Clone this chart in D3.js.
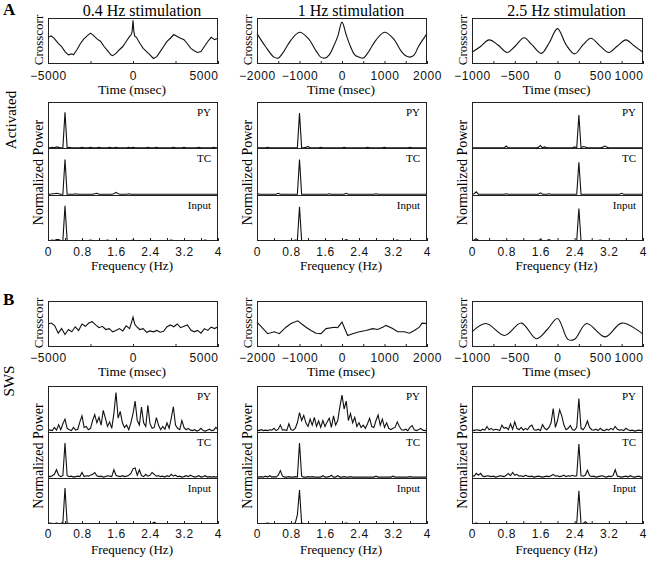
<!DOCTYPE html>
<html><head><meta charset="utf-8">
<script src="https://cdn.jsdelivr.net/npm/d3@7"></script>
<style>body{margin:0;background:#fff}svg{display:block}</style>
</head><body>
<svg id="c" width="655" height="561"></svg>
<script>
// ---------------- DATA ----------------
const titles = ["0.4 Hz stimulation", "1 Hz stimulation", "2.5 Hz stimulation"];
const sectionLetters = ["A", "B"];
const stateNames = ["Activated", "SWS"];
const cellNames = ["PY", "TC", "Input"];
const lagRanges = [5000, 2000, 1000];
const lagTickLabels = [[-5000, 0, 5000], [-2000, -1000, 0, 1000, 2000], [-1000, -500, 0, 500, 1000]];
const lagMinorTicks = [[-2500, 2500], [-1500, -500, 500, 1500], [-750, -250, 250, 750]];
const freqTickLabels = [0, 0.8, 1.6, 2.4, 3.2, 4];
const freqMinorTicks = [0.4, 1.2, 2.0, 2.8, 3.6];
const freqs = d3.range(81).map(i => +(i * 0.05).toFixed(2)); // sampling grid 0..4 Hz

// crosscorrelations [lag ms, normalized value]
const ccAct04 = [[-5000,0.58],[-4800,0.61],[-4600,0.54],[-4400,0.45],[-4200,0.38],[-4000,0.27],[-3800,0.20],[-3600,0.22],[-3500,0.20],[-3300,0.31],[-3100,0.44],[-2900,0.54],[-2700,0.61],[-2500,0.67],[-2300,0.61],[-2100,0.54],[-1900,0.49],[-1700,0.38],[-1500,0.29],[-1300,0.20],[-1200,0.18],[-1000,0.23],[-800,0.31],[-600,0.38],[-400,0.49],[-200,0.60],[-100,0.64],[-50,0.71],[0,0.95],[50,0.71],[100,0.61],[200,0.58],[400,0.45],[600,0.34],[800,0.27],[1000,0.20],[1200,0.12],[1400,0.16],[1600,0.27],[1800,0.38],[2000,0.49],[2200,0.56],[2400,0.64],[2600,0.60],[2800,0.56],[3000,0.53],[3200,0.44],[3400,0.34],[3600,0.29],[3800,0.25],[4000,0.27],[4200,0.38],[4400,0.49],[4600,0.58],[4800,0.53],[5000,0.56]];
const ccAct1 = [[-2000,0.66],[-1800,0.38],[-1600,0.15],[-1500,0.13],[-1400,0.23],[-1200,0.52],[-1000,0.69],[-800,0.56],[-600,0.27],[-500,0.15],[-400,0.13],[-300,0.20],[-200,0.38],[-100,0.60],[0,0.91],[100,0.63],[200,0.38],[300,0.20],[400,0.15],[500,0.13],[600,0.23],[800,0.52],[1000,0.69],[1200,0.56],[1400,0.27],[1500,0.18],[1600,0.15],[1700,0.20],[1800,0.38],[2000,0.66]];
const ccAct25 = [[-1000,0.255],[-900,0.38],[-800,0.525],[-700,0.42],[-590,0.25],[-500,0.38],[-390,0.57],[-300,0.42],[-190,0.23],[-100,0.45],[0,0.77],[100,0.42],[200,0.22],[300,0.42],[390,0.56],[500,0.39],[600,0.25],[700,0.39],[800,0.525],[900,0.39],[1000,0.255]];
const ccSws04 = [[-5000,0.50],[-4800,0.52],[-4600,0.46],[-4400,0.30],[-4200,0.40],[-4000,0.27],[-3800,0.38],[-3600,0.33],[-3400,0.44],[-3200,0.36],[-3000,0.50],[-2800,0.45],[-2600,0.52],[-2400,0.55],[-2200,0.48],[-2000,0.42],[-1800,0.45],[-1600,0.38],[-1400,0.40],[-1200,0.33],[-1000,0.36],[-800,0.40],[-600,0.35],[-400,0.46],[-200,0.40],[-100,0.52],[0,0.65],[100,0.50],[200,0.45],[400,0.38],[600,0.40],[800,0.32],[1000,0.35],[1200,0.33],[1400,0.36],[1600,0.32],[1800,0.34],[2000,0.44],[2200,0.48],[2400,0.44],[2600,0.50],[2800,0.42],[3000,0.45],[3200,0.48],[3400,0.37],[3600,0.33],[3800,0.36],[4000,0.30],[4200,0.40],[4400,0.36],[4600,0.43],[4800,0.40],[5000,0.44]];
const ccSws1 = [[-2000,0.54],[-1749,0.29],[-1592,0.33],[-1475,0.29],[-1318,0.43],[-1200,0.51],[-1043,0.57],[-847,0.43],[-729,0.36],[-612,0.30],[-494,0.29],[-376,0.40],[-180,0.43],[-102,0.42],[0,0.54],[133,0.25],[251,0.29],[408,0.33],[565,0.36],[722,0.40],[839,0.38],[957,0.43],[1035,0.47],[1192,0.40],[1310,0.33],[1467,0.33],[1584,0.30],[1702,0.36],[1820,0.43],[1882,0.52],[2000,0.51]];
const ccSws25 = [[-1000,0.33],[-835,0.51],[-620,0.25],[-424,0.52],[-247,0.18],[-120,0.38],[0,0.62],[125,0.16],[200,0.17],[341,0.51],[557,0.22],[753,0.52],[1000,0.28]];

// normalized power spectra on the 0.05 Hz grid
const actPY04 = [0.01,0.01,0.02,0.01,0.03,0.02,0.01,0.01,0.78,0.01,0.02,0.01,0.01,0.01,0.01,0.01,0.02,0.01,0.01,0.01,0.02,0.01,0.01,0.01,0.02,0.01,0.01,0.01,0.01,0.02,0.01,0.01,0.02,0.01,0.01,0.01,0.01,0.01,0.02,0.01,0.02,0.01,0.01,0.01,0.01,0.01,0.01,0.02,0.01,0.01,0.01,0.02,0.01,0.01,0.01,0.01,0.01,0.01,0.01,0.02,0.01,0.01,0.01,0.01,0.02,0.01,0.01,0.01,0.01,0.01,0.01,0.02,0.01,0.01,0.01,0.01,0.01,0.01,0.02,0.01,0.01];
const actTC04 = [0.01,0.01,0.02,0.02,0.03,0.02,0.01,0.01,0.76,0.01,0.01,0.01,0.01,0.02,0.01,0.01,0.01,0.01,0.01,0.01,0.01,0.01,0.02,0.03,0.01,0.01,0.01,0.01,0.01,0.01,0.01,0.02,0.05,0.02,0.01,0.01,0.01,0.01,0.02,0.01,0.01,0.01,0.01,0.01,0.01,0.01,0.01,0.01,0.01,0.01,0.01,0.01,0.01,0.01,0.01,0.01,0.01,0.01,0.01,0.01,0.01,0.01,0.01,0.01,0.01,0.01,0.01,0.01,0.01,0.01,0.01,0.01,0.01,0.01,0.01,0.01,0.01,0.01,0.01,0.01,0.01];
const actIn04 = [0.01,0.01,0.02,0.01,0.03,0.03,0.01,0.01,0.76,0.01,0.01,0.01,0.01,0.01,0.01,0.01,0.01,0.01,0.01,0.01,0.02,0.01,0.01,0.01,0.01,0.01,0.01,0.01,0.02,0.01,0.01,0.01,0.01,0.01,0.01,0.01,0.01,0.01,0.01,0.01,0.02,0.01,0.01,0.01,0.01,0.01,0.01,0.01,0.01,0.01,0.01,0.01,0.01,0.01,0.01,0.01,0.01,0.01,0.02,0.01,0.01,0.01,0.01,0.01,0.01,0.01,0.01,0.01,0.01,0.01,0.01,0.01,0.01,0.01,0.02,0.01,0.01,0.01,0.01,0.01,0.01];
const actPY1 = [0.01,0.01,0.01,0.01,0.01,0.02,0.01,0.01,0.01,0.01,0.01,0.01,0.01,0.01,0.01,0.01,0.01,0.01,0.01,0.01,0.76,0.01,0.01,0.02,0.04,0.01,0.01,0.01,0.01,0.01,0.02,0.01,0.01,0.01,0.01,0.01,0.01,0.01,0.01,0.01,0.01,0.02,0.01,0.01,0.01,0.01,0.01,0.01,0.01,0.01,0.01,0.01,0.02,0.01,0.01,0.01,0.01,0.01,0.01,0.01,0.02,0.01,0.01,0.01,0.01,0.01,0.01,0.01,0.01,0.01,0.01,0.01,0.02,0.01,0.01,0.01,0.01,0.01,0.01,0.01,0.01];
const actTC1 = [0.03,0.01,0.01,0.01,0.01,0.01,0.01,0.01,0.01,0.01,0.03,0.01,0.01,0.01,0.01,0.01,0.01,0.01,0.01,0.01,0.76,0.01,0.01,0.01,0.01,0.01,0.01,0.01,0.01,0.01,0.01,0.01,0.01,0.01,0.02,0.01,0.01,0.01,0.01,0.01,0.01,0.01,0.03,0.01,0.01,0.01,0.01,0.01,0.01,0.01,0.01,0.01,0.01,0.01,0.01,0.01,0.02,0.01,0.01,0.01,0.01,0.01,0.01,0.01,0.01,0.01,0.01,0.01,0.01,0.01,0.01,0.01,0.01,0.01,0.01,0.01,0.01,0.01,0.01,0.01,0.01];
const actIn1 = [0.01,0.01,0.01,0.01,0.01,0.01,0.01,0.01,0.01,0.01,0.01,0.01,0.01,0.01,0.01,0.01,0.01,0.01,0.02,0.01,0.74,0.01,0.01,0.01,0.01,0.01,0.01,0.01,0.01,0.01,0.01,0.01,0.01,0.01,0.01,0.01,0.01,0.01,0.01,0.01,0.01,0.01,0.03,0.01,0.01,0.01,0.01,0.01,0.01,0.01,0.01,0.01,0.01,0.01,0.01,0.01,0.01,0.01,0.01,0.01,0.01,0.01,0.01,0.01,0.01,0.01,0.02,0.01,0.01,0.01,0.01,0.01,0.01,0.01,0.01,0.01,0.01,0.01,0.01,0.01,0.01];
const actPY25 = [0.01,0.01,0.01,0.01,0.01,0.01,0.01,0.01,0.01,0.01,0.01,0.01,0.01,0.01,0.01,0.01,0.05,0.01,0.01,0.01,0.01,0.01,0.01,0.01,0.01,0.01,0.01,0.01,0.01,0.01,0.01,0.02,0.06,0.01,0.03,0.01,0.01,0.01,0.01,0.01,0.01,0.01,0.01,0.01,0.01,0.01,0.01,0.01,0.03,0.01,0.72,0.01,0.04,0.03,0.01,0.01,0.01,0.01,0.01,0.01,0.01,0.02,0.05,0.03,0.01,0.01,0.01,0.01,0.01,0.01,0.01,0.01,0.01,0.01,0.01,0.01,0.01,0.01,0.01,0.01,0.01];
const actTC25 = [0.01,0.02,0.06,0.01,0.01,0.01,0.01,0.01,0.01,0.01,0.01,0.01,0.01,0.01,0.01,0.01,0.02,0.01,0.01,0.01,0.01,0.01,0.01,0.01,0.01,0.01,0.01,0.01,0.01,0.01,0.01,0.01,0.04,0.01,0.01,0.01,0.02,0.01,0.01,0.01,0.01,0.01,0.01,0.01,0.01,0.01,0.01,0.01,0.01,0.01,0.70,0.01,0.01,0.01,0.01,0.01,0.01,0.01,0.01,0.01,0.01,0.01,0.01,0.01,0.01,0.01,0.01,0.01,0.01,0.01,0.03,0.01,0.01,0.01,0.01,0.01,0.01,0.01,0.01,0.01,0.01];
const actIn25 = [0.01,0.02,0.05,0.01,0.01,0.01,0.01,0.01,0.01,0.01,0.01,0.01,0.01,0.01,0.01,0.01,0.01,0.01,0.01,0.01,0.01,0.01,0.01,0.01,0.01,0.01,0.01,0.01,0.01,0.01,0.01,0.01,0.03,0.01,0.01,0.01,0.03,0.01,0.01,0.01,0.01,0.01,0.01,0.01,0.01,0.01,0.01,0.01,0.01,0.01,0.70,0.01,0.01,0.01,0.01,0.01,0.01,0.01,0.01,0.01,0.02,0.01,0.01,0.01,0.01,0.01,0.01,0.01,0.01,0.01,0.01,0.01,0.01,0.01,0.01,0.01,0.01,0.01,0.01,0.01,0.01];
const swsPY04 = [0.05,0.04,0.03,0.10,0.04,0.16,0.05,0.18,0.28,0.08,0.05,0.03,0.10,0.04,0.06,0.22,0.35,0.10,0.12,0.05,0.08,0.25,0.38,0.20,0.32,0.15,0.47,0.30,0.12,0.22,0.08,0.40,0.86,0.30,0.45,0.20,0.10,0.15,0.05,0.20,0.40,0.67,0.25,0.15,0.54,0.20,0.12,0.58,0.18,0.08,0.10,0.31,0.15,0.05,0.12,0.06,0.20,0.08,0.30,0.55,0.15,0.08,0.05,0.25,0.10,0.05,0.08,0.04,0.03,0.05,0.02,0.04,0.08,0.03,0.02,0.04,0.06,0.03,0.04,0.10,0.05];
const swsTC04 = [0.04,0.03,0.05,0.08,0.18,0.06,0.03,0.05,0.76,0.05,0.03,0.04,0.02,0.03,0.04,0.03,0.12,0.03,0.05,0.04,0.06,0.08,0.12,0.05,0.03,0.04,0.02,0.03,0.05,0.04,0.03,0.18,0.06,0.04,0.03,0.05,0.03,0.04,0.06,0.10,0.20,0.22,0.06,0.18,0.05,0.03,0.08,0.04,0.06,0.12,0.08,0.04,0.05,0.03,0.04,0.02,0.05,0.03,0.08,0.04,0.06,0.03,0.04,0.02,0.03,0.05,0.03,0.06,0.04,0.02,0.03,0.05,0.02,0.03,0.05,0.02,0.03,0.02,0.03,0.02,0.03];
const swsIn04 = [0.01,0.02,0.01,0.01,0.02,0.01,0.01,0.03,0.78,0.02,0.01,0.01,0.01,0.01,0.01,0.01,0.01,0.01,0.01,0.01,0.01,0.01,0.01,0.01,0.01,0.01,0.01,0.01,0.01,0.01,0.01,0.01,0.01,0.01,0.01,0.01,0.01,0.01,0.01,0.01,0.01,0.01,0.01,0.01,0.01,0.01,0.01,0.01,0.01,0.01,0.04,0.01,0.01,0.01,0.01,0.01,0.01,0.01,0.01,0.01,0.01,0.01,0.01,0.01,0.01,0.01,0.01,0.01,0.01,0.01,0.01,0.01,0.01,0.01,0.01,0.01,0.01,0.01,0.01,0.01,0.01];
const swsPY1 = [0.04,0.03,0.05,0.03,0.04,0.03,0.05,0.04,0.08,0.03,0.06,0.15,0.04,0.05,0.03,0.18,0.05,0.04,0.08,0.20,0.42,0.25,0.36,0.20,0.12,0.28,0.15,0.32,0.12,0.24,0.10,0.25,0.12,0.22,0.30,0.10,0.35,0.15,0.25,0.55,0.80,0.50,0.67,0.25,0.40,0.20,0.32,0.12,0.20,0.10,0.15,0.08,0.18,0.30,0.12,0.10,0.25,0.37,0.15,0.28,0.10,0.20,0.08,0.05,0.08,0.10,0.22,0.12,0.05,0.04,0.06,0.03,0.10,0.14,0.05,0.03,0.05,0.08,0.04,0.03,0.04];
const swsTC1 = [0.03,0.02,0.03,0.02,0.04,0.02,0.05,0.02,0.03,0.02,0.06,0.16,0.04,0.02,0.02,0.03,0.02,0.02,0.03,0.02,0.76,0.04,0.02,0.02,0.03,0.02,0.03,0.02,0.02,0.02,0.02,0.05,0.02,0.02,0.03,0.06,0.02,0.02,0.05,0.02,0.02,0.03,0.02,0.02,0.03,0.02,0.02,0.02,0.02,0.02,0.02,0.02,0.02,0.02,0.02,0.02,0.04,0.02,0.02,0.02,0.02,0.02,0.02,0.02,0.04,0.02,0.02,0.02,0.02,0.02,0.02,0.02,0.03,0.02,0.02,0.02,0.02,0.02,0.02,0.02,0.02];
const swsIn1 = [0.01,0.01,0.01,0.01,0.01,0.02,0.01,0.01,0.01,0.01,0.01,0.01,0.01,0.01,0.01,0.01,0.01,0.01,0.02,0.20,0.74,0.02,0.01,0.01,0.01,0.01,0.01,0.01,0.01,0.01,0.01,0.01,0.01,0.01,0.01,0.01,0.01,0.01,0.01,0.01,0.01,0.01,0.02,0.01,0.01,0.01,0.01,0.01,0.01,0.01,0.01,0.01,0.01,0.01,0.01,0.01,0.01,0.01,0.01,0.01,0.01,0.01,0.01,0.01,0.01,0.01,0.01,0.01,0.01,0.01,0.01,0.01,0.01,0.01,0.01,0.01,0.01,0.01,0.01,0.01,0.01];
const swsPY25 = [0.05,0.03,0.05,0.04,0.03,0.06,0.04,0.12,0.05,0.08,0.04,0.06,0.05,0.03,0.15,0.08,0.10,0.05,0.18,0.06,0.22,0.08,0.05,0.10,0.04,0.08,0.05,0.12,0.15,0.05,0.04,0.06,0.03,0.16,0.08,0.05,0.10,0.20,0.51,0.10,0.25,0.48,0.35,0.15,0.05,0.08,0.14,0.05,0.04,0.10,0.73,0.08,0.05,0.12,0.24,0.10,0.05,0.04,0.06,0.03,0.08,0.04,0.03,0.06,0.04,0.08,0.05,0.12,0.06,0.04,0.05,0.03,0.08,0.05,0.03,0.04,0.02,0.03,0.04,0.03,0.04];
const swsTC25 = [0.05,0.04,0.10,0.06,0.10,0.04,0.03,0.05,0.04,0.03,0.04,0.02,0.03,0.05,0.04,0.03,0.06,0.10,0.05,0.12,0.06,0.08,0.04,0.05,0.03,0.06,0.04,0.03,0.04,0.02,0.03,0.04,0.03,0.02,0.03,0.04,0.03,0.05,0.08,0.04,0.05,0.03,0.04,0.06,0.03,0.05,0.04,0.06,0.04,0.05,0.74,0.05,0.04,0.06,0.17,0.05,0.03,0.04,0.02,0.03,0.04,0.05,0.03,0.02,0.04,0.03,0.05,0.18,0.04,0.03,0.02,0.03,0.04,0.02,0.05,0.03,0.02,0.03,0.04,0.02,0.03];
const swsIn25 = [0.01,0.01,0.02,0.01,0.01,0.01,0.01,0.01,0.01,0.01,0.01,0.01,0.01,0.01,0.01,0.01,0.01,0.01,0.01,0.01,0.01,0.01,0.01,0.01,0.01,0.01,0.01,0.01,0.01,0.01,0.01,0.01,0.01,0.01,0.01,0.01,0.01,0.01,0.01,0.01,0.01,0.01,0.01,0.01,0.01,0.01,0.01,0.01,0.01,0.02,0.72,0.01,0.01,0.05,0.01,0.01,0.01,0.01,0.01,0.01,0.01,0.01,0.01,0.01,0.01,0.01,0.01,0.01,0.01,0.01,0.01,0.01,0.01,0.01,0.01,0.01,0.01,0.01,0.01,0.01,0.01];

const ccData = [[ccAct04, ccAct1, ccAct25], [ccSws04, ccSws1, ccSws25]];
const spData = [
  [[actPY04, actTC04, actIn04], [actPY1, actTC1, actIn1], [actPY25, actTC25, actIn25]],
  [[swsPY04, swsTC04, swsIn04], [swsPY1, swsTC1, swsIn1], [swsPY25, swsTC25, swsIn25]]
];

// ---------------- LAYOUT ----------------
const serif = '"Liberation Serif","Times New Roman",serif';
const sans = '"Liberation Sans",Arial,sans-serif';
const cols = [{l:48, r:218, endAlign:true}, {l:257, r:427, endAlign:false}, {l:472, r:643, endAlign:true}];
const secs = [
  {ccT:18, ccB:64, ccTick:80, ccLab:93.5, spT:102, spB:241, spTick:256, spLab:269.5, letterY:15, stateX:16, stateY:120},
  {ccT:301, ccB:347, ccTick:362, ccLab:375.5, spT:386, spB:524, spTick:537.5, spLab:553.5, letterY:305, stateX:14, stateY:381}
];
const ccCurves = [[d3.curveLinear, d3.curveCatmullRom, d3.curveCatmullRom], [d3.curveLinear, d3.curveLinear, d3.curveCatmullRom]];

const svg = d3.select("#c");
const fmtLag = d3.format("d");

secs.forEach((s, si) => {
  svg.append("text").attr("x", 3).attr("y", s.letterY).text(sectionLetters[si])
    .attr("font-family", serif).attr("font-weight", "bold").attr("font-size", 17);
  svg.append("text").attr("transform", `translate(${s.stateX},${s.stateY}) rotate(-90)`)
    .attr("text-anchor", "middle").attr("font-family", serif).attr("font-size", 15).text(stateNames[si]);

  cols.forEach((c, ci) => {
    const g = svg.append("g");
    const cx = (c.l + c.r) / 2;
    if (si === 0) {
      g.append("text").attr("x", cx + 9).attr("y", 15.5).attr("text-anchor", "middle")
        .attr("font-family", serif).attr("font-size", 16).text(titles[ci]);
    }
    // ---- crosscorrelation panel
    const R = lagRanges[ci];
    const x = d3.scaleLinear().domain([-R, R]).range([c.l, c.r]);
    const y = d3.scaleLinear().domain([0, 1]).range([s.ccB, s.ccT]);
    g.append("path").datum(ccData[si][ci])
      .attr("d", d3.line().x(d => x(d[0])).y(d => y(d[1])).curve(ccCurves[si][ci]))
      .attr("fill", "none").attr("stroke", "#111").attr("stroke-width", 1.1);
    const labs = lagTickLabels[ci];
    const ax = g.append("g").attr("transform", `translate(0,${s.ccB})`)
      .call(d3.axisBottom(x).tickValues(labs.concat(lagMinorTicks[ci]))
        .tickSizeInner(-3).tickSizeOuter(0)
        .tickFormat(v => labs.includes(v) ? fmtLag(v) : ""));
    ax.select(".domain").remove();
    ax.selectAll("line").attr("stroke", "#222");
    ax.selectAll("text").attr("y", s.ccTick - s.ccB).attr("dy", null)
      .attr("font-family", sans).attr("font-size", 12).attr("letter-spacing", 0.6).attr("fill", "#111");
    if (c.endAlign) {
      ax.selectAll(".tick").filter(v => v === R).select("text")
        .attr("text-anchor", "end").attr("x", 0);
    }
    g.append("rect").attr("x", c.l + 0.5).attr("y", s.ccT + 0.5)
      .attr("width", c.r - c.l - 1).attr("height", s.ccB - s.ccT - 1)
      .attr("fill", "none").attr("stroke", "#222").attr("stroke-width", 1);
    g.append("text").attr("x", cx - 1).attr("y", s.ccLab).attr("text-anchor", "middle")
      .attr("font-family", serif).attr("font-size", 13.5).text("Time (msec)");
    g.append("text").attr("transform", `translate(${c.l - 5},${(s.ccT + s.ccB) / 2 - 1}) rotate(-90)`)
      .attr("text-anchor", "middle").attr("font-family", serif).attr("font-size", 13).text("Crosscorr");

    // ---- spectra panel
    const fx = d3.scaleLinear().domain([0, 4]).range([c.l, c.r]);
    const h = (s.spB - s.spT) / 3;
    spData[si][ci].forEach((vals, k) => {
      const top = s.spT + k * h, bot = top + h;
      const fy = d3.scaleLinear().domain([0, 1]).range([bot, top]);
      g.append("path").datum(vals)
        .attr("d", d3.line().x((d, i) => fx(freqs[i])).y(d => fy(d)))
        .attr("fill", "none").attr("stroke", "#111").attr("stroke-width", 1.1);
      g.append("text").attr("x", c.r - 7).attr("y", top + 14).attr("text-anchor", "end")
        .attr("font-family", serif).attr("font-size", 11).text(cellNames[k]);
      if (k > 0) {
        g.append("line").attr("x1", c.l).attr("x2", c.r).attr("y1", Math.round(top) + 0.5).attr("y2", Math.round(top) + 0.5)
          .attr("stroke", "#222").attr("stroke-width", 1);
      }
    });
    const fax = g.append("g").attr("transform", `translate(0,${s.spB})`)
      .call(d3.axisBottom(fx).tickValues(freqTickLabels.concat(freqMinorTicks))
        .tickSizeInner(-3).tickSizeOuter(0)
        .tickFormat(v => freqTickLabels.includes(v) ? String(v) : ""));
    fax.select(".domain").remove();
    fax.selectAll("line").attr("stroke", "#222");
    fax.selectAll("text").attr("y", s.spTick - s.spB).attr("dy", null)
      .attr("font-family", sans).attr("font-size", 12).attr("letter-spacing", 0.6).attr("fill", "#111");
    g.append("rect").attr("x", c.l + 0.5).attr("y", s.spT + 0.5)
      .attr("width", c.r - c.l - 1).attr("height", s.spB - s.spT - 1)
      .attr("fill", "none").attr("stroke", "#222").attr("stroke-width", 1);
    g.append("text").attr("x", cx - 1).attr("y", s.spLab).attr("text-anchor", "middle")
      .attr("font-family", serif).attr("font-size", 13).text("Frequency (Hz)");
    g.append("text").attr("transform", `translate(${c.l - 5},${(s.spT + s.spB) / 2 + 1}) rotate(-90)`)
      .attr("text-anchor", "middle").attr("font-family", serif).attr("font-size", 14).text("Normalized Power");
  });
});
</script>
</body></html>
